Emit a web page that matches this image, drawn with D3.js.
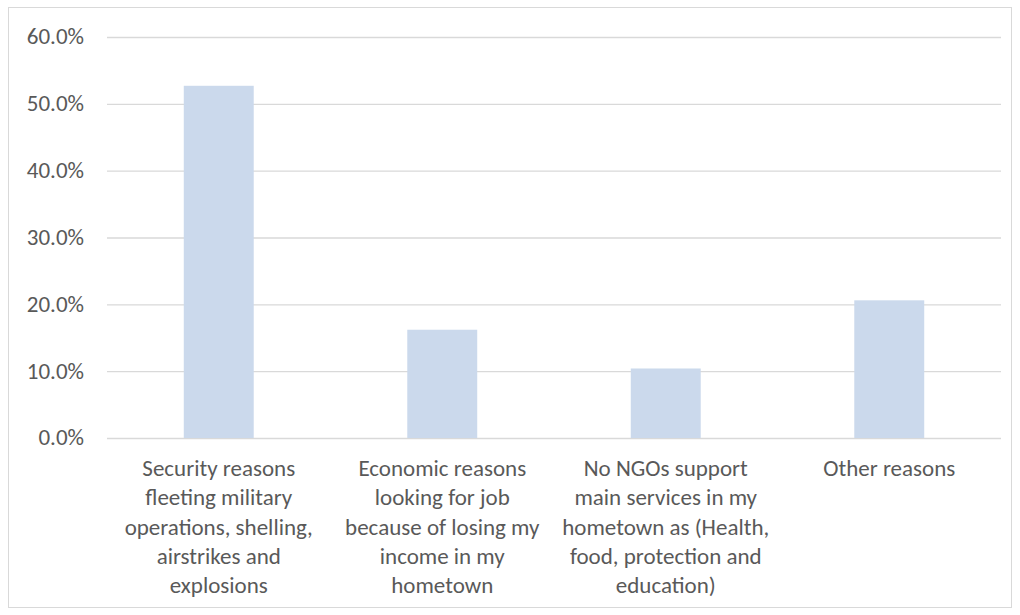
<!DOCTYPE html>
<html>
<head>
<meta charset="utf-8">
<script src="https://cdn.jsdelivr.net/npm/d3@7"></script>
<style>
  html, body { margin: 0; padding: 0; background: #fff; }
  svg { display: block; }
</style>
</head>
<body>
<div id="chart"></div>
<script>
(() => {
  const categories = [
    ["Security reasons", "fleeting military", "operations, shelling,", "airstrikes and", "explosions"],
    ["Economic reasons", "looking for job", "because of losing my", "income in my", "hometown"],
    ["No NGOs support", "main services in my", "hometown as (Health,", "food, protection and", "education)"],
    ["Other reasons"]
  ];
  const values = [0.527, 0.162, 0.104, 0.206];
  const yTicks = [0, 0.1, 0.2, 0.3, 0.4, 0.5, 0.6];

  const width = 1020;
  const height = 615;
  const plot = { left: 107, right: 1001, top: 37, bottom: 438 };
  const font = "Calibri, Carlito, Lato, sans-serif";
  const textColor = "#595959";

  const svg = d3.select("#chart")
    .append("svg")
    .attr("width", width)
    .attr("height", height)
    .style("font-family", font);

  // chart border
  svg.append("rect")
    .attr("x", 8.5).attr("y", 7.5)
    .attr("width", 1003).attr("height", 600)
    .attr("fill", "#fff")
    .attr("stroke", "#d9d9d9");

  const x = d3.scaleBand()
    .domain(d3.range(categories.length))
    .range([plot.left, plot.right])
    .paddingInner(0.687)
    .paddingOuter(0.687 / 2);

  const y = d3.scaleLinear()
    .domain([0, 0.6])
    .range([plot.bottom, plot.top]);

  // gridlines + tick labels
  const yAxis = d3.axisLeft(y)
    .tickValues(yTicks)
    .tickFormat(d3.format(".1%"))
    .tickSize(-(plot.right - plot.left))
    .tickPadding(23);

  svg.append("g")
    .attr("transform", `translate(${plot.left},0)`)
    .call(yAxis)
    .call(g => g.select(".domain").remove())
    .call(g => g.selectAll("line").attr("stroke", "#d9d9d9").attr("stroke-width", 1.3))
    .call(g => g.selectAll("text")
      .attr("fill", textColor)
      .attr("dy", "0.3em")
      .style("font-family", font)
      .style("font-size", "23px"));

  // bars
  svg.append("g")
    .selectAll("rect")
    .data(values)
    .join("rect")
    .attr("x", (d, i) => x(i))
    .attr("y", d => y(d))
    .attr("width", x.bandwidth())
    .attr("height", d => y(0) - y(d))
    .attr("fill", "#cbd9ec");

  // category labels
  const labels = svg.append("g")
    .attr("text-anchor", "middle")
    .attr("fill", textColor)
    .style("font-size", "23px");

  labels.selectAll("text")
    .data(categories)
    .join("text")
    .attr("x", (d, i) => x(i) + x.bandwidth() / 2)
    .attr("y", 476)
    .selectAll("tspan")
    .data(d => d)
    .join("tspan")
    .attr("x", function () { return this.parentNode.getAttribute("x"); })
    .attr("dy", (d, i) => i === 0 ? 0 : 29.3)
    .text(d => d);
})();
</script>
</body>
</html>
